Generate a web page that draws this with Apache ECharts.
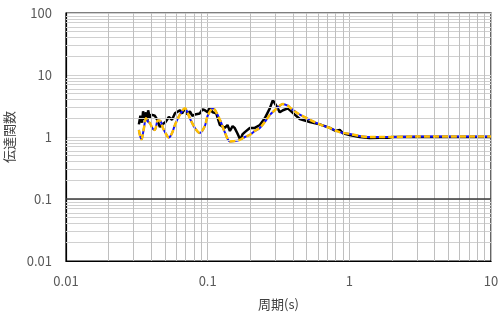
<!DOCTYPE html>
<html>
<head>
<meta charset="utf-8">
<script src="https://cdn.jsdelivr.net/npm/echarts@6/dist/echarts.min.js"></script>
<style>html,body{margin:0;padding:0;background:#fff}#c{width:502px;height:321px}</style>
</head>
<body>
<div id="c"></div>
<script>
// Black series (observed)
const blackPeriod = [0.0327,0.0335,0.0344,0.035,0.0357,0.0367,0.0375,0.038,0.0391,0.040,0.0424,0.044,0.046,0.048,0.0505,0.0532,0.056,0.0587,0.0637,0.066,0.069,0.072,0.0749,0.078,0.0812,0.088,0.092,0.0955,0.1,0.103,0.1088,0.115,0.122,0.132,0.138,0.1435,0.15,0.155,0.162,0.17,0.176,0.183,0.1985,0.215,0.2335,0.253,0.2745,0.288,0.298,0.31,0.323,0.34,0.368,0.38,0.412,0.447,0.526,0.618,0.728,0.8,0.855,0.9,1.006,1.18,1.39,1.64,1.9,2.0,3,5,10];
const blackValue  = [1.6,2.2,1.7,2.6,1.9,2.5,1.8,2.7,2.0,2.3,2.2,1.9,1.45,1.6,1.75,2.1,1.9,2.4,2.7,2.4,2.9,2.3,2.6,2.2,2.3,2.4,2.8,2.7,2.5,2.9,2.5,2.4,1.56,1.4,1.56,1.25,1.5,1.4,1.15,0.9,1.1,1.2,1.4,1.4,1.56,2.0,2.9,3.9,3.5,3.0,2.5,2.7,2.9,2.7,2.3,1.95,1.75,1.6,1.4,1.25,1.3,1.15,1.08,1.0,0.96,0.97,0.97,1.0,1.0,1.0,1.0];
// Blue (solid) and orange (dashed) series
const fitPeriod   = [0.0327,0.034,0.0344,0.0355,0.0367,0.038,0.0391,0.041,0.0424,0.0445,0.0465,0.0483,0.0505,0.0532,0.056,0.0587,0.0637,0.069,0.0749,0.0812,0.088,0.0955,0.1,0.1088,0.122,0.132,0.1435,0.1555,0.1687,0.183,0.1985,0.215,0.2335,0.253,0.2745,0.298,0.323,0.339,0.368,0.38,0.412,0.447,0.526,0.618,0.728,0.855,1.006,1.18,1.39,2,3,5,10];
const blueValue   = [1.3,0.92,0.95,1.4,2.0,1.75,1.68,1.35,1.3,1.85,1.8,1.4,1.15,0.98,1.15,1.56,2.3,2.9,2.0,1.4,1.16,1.5,2.2,2.9,1.9,1.2,0.85,0.86,0.9,1.0,1.08,1.25,1.4,1.75,2.26,2.7,3.2,3.4,3.2,3.0,2.6,2.3,1.9,1.6,1.4,1.2,1.12,1.04,1.0,1.0,1.02,1.02,1.02];
const orangeValue = [1.3,0.92,0.95,1.4,2.0,1.75,1.68,1.35,1.3,1.85,1.8,1.4,1.15,0.98,1.15,1.56,2.3,2.9,2.0,1.4,1.16,1.5,2.2,2.9,1.9,1.2,0.85,0.86,0.9,1.0,1.08,1.25,1.4,1.75,2.26,2.7,3.2,3.4,3.2,3.0,2.6,2.3,1.9,1.6,1.4,1.2,1.12,1.04,1.0,1.0,1.02,1.02,1.02];
// Grid line values
const xGridValues = [0.02,0.03,0.04,0.05,0.06,0.07,0.08,0.09,0.2,0.3,0.4,0.5,0.6,0.7,0.8,0.9,2,3,4,5,6,7,8,9];
const yGridValues = [0.02,0.03,0.04,0.05,0.06,0.07,0.08,0.09,0.2,0.3,0.4,0.5,0.6,0.7,0.8,0.9,2,3,4,5,6,7,8,9,20,30,40,50,60,70,80,90];
const darkYLine = 0.1;
const xTitle = '周期(s)';
const yTitle = '伝達関数';

const pairs = (xs, ys) => xs.map((x, i) => [x, ys[i]]);
const chart = echarts.init(document.getElementById('c'), null, {renderer: 'canvas'});
const labelFont = {color: '#595959', fontSize: 13, fontFamily: 'Noto Sans CJK JP'};
chart.setOption({
  animation: false,
  grid: {left: 66, right: 11, top: 13, bottom: 60, containLabel: false, outerBoundsMode: 'none',
         show: true, borderColor: '#000', borderWidth: 1.2, backgroundColor: '#fff'},
  xAxis: {
    type: 'log', logBase: 10, min: 0.01, max: 10,
    name: xTitle, nameLocation: 'middle', nameGap: 37,
    nameTextStyle: {color: '#404040', fontSize: 13, fontFamily: 'Noto Sans CJK JP'},
    axisLine: {show: true, lineStyle: {color: '#000', width: 1.2}},
    axisTick: {show: false},
    axisLabel: Object.assign({margin: 14}, labelFont),
    splitLine: {show: true, lineStyle: {color: '#bfbfbf', width: 1}}
  },
  yAxis: {
    type: 'log', logBase: 10, min: 0.01, max: 100,
    name: yTitle, nameLocation: 'middle', nameGap: 43, nameRotate: 90,
    nameTextStyle: {color: '#404040', fontSize: 13, fontFamily: 'Noto Sans CJK JP'},
    axisLine: {show: true, lineStyle: {color: '#000', width: 1.2}},
    axisTick: {show: false},
    axisLabel: Object.assign({margin: 14}, labelFont),
    splitLine: {show: true, lineStyle: {color: '#d0d0d0', width: 1}}
  },
  series: [
    {
      type: 'line', data: [[1, 1]], symbol: 'none', lineStyle: {opacity: 0}, silent: true, z: 1,
      markLine: {
        silent: true, symbol: ['none', 'none'], label: {show: false}, animation: false,
        lineStyle: {type: 'solid', color: '#d0d0d0', width: 1},
        data: yGridValues.map(v => ({yAxis: v}))
      }
    },
    {
      type: 'line', data: [[1, 1]], symbol: 'none', lineStyle: {opacity: 0}, silent: true, z: 1,
      markLine: {
        silent: true, symbol: ['none', 'none'], label: {show: false}, animation: false,
        lineStyle: {type: 'solid', color: '#bfbfbf', width: 1},
        data: xGridValues.map(v => ({xAxis: v})).concat([{yAxis: darkYLine, lineStyle: {color: '#3a3a3a', width: 1.5}}])
      }
    },
    {type: 'line', data: pairs(blackPeriod, blackValue), symbol: 'none', z: 3,
     lineStyle: {color: '#000', width: 2.5}},
    {type: 'line', data: pairs(fitPeriod, blueValue), symbol: 'none', smooth: 0.3, z: 4,
     lineStyle: {color: '#1010ff', width: 2}},
    {type: 'line', data: pairs(fitPeriod, orangeValue), symbol: 'none', smooth: 0.3, z: 5,
     lineStyle: {color: '#ffc000', width: 2.5, type: [6, 3]}}
  ]
});
</script>
</body>
</html>
